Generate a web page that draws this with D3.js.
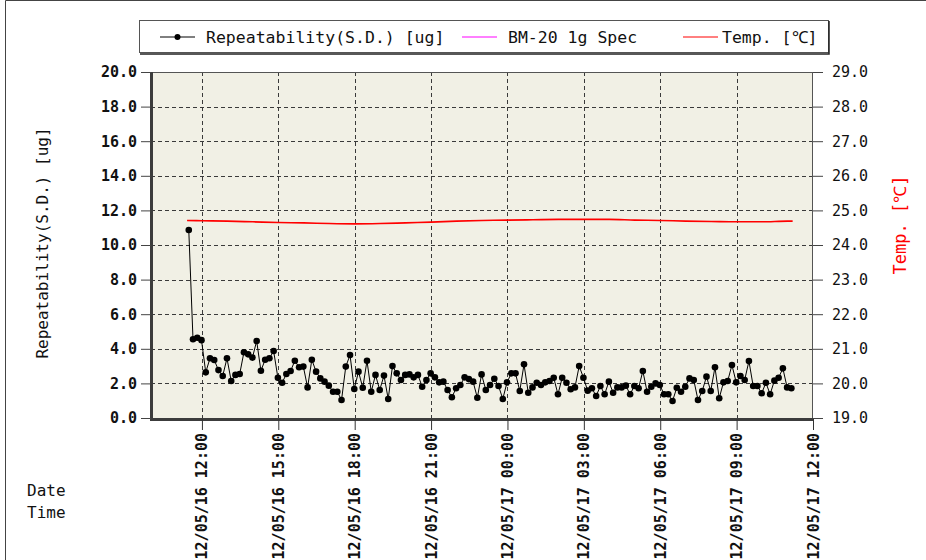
<!DOCTYPE html>
<html>
<head>
<meta charset="utf-8">
<script src="https://cdn.jsdelivr.net/npm/d3@7"></script>
<style>
  body { margin: 0; background: #fff; }
  svg { display: block; }
  text { font-family: "DejaVu Sans Mono", "Liberation Mono", monospace; fill: #111; }
</style>
</head>
<body>
<svg id="chart" width="926" height="560"></svg>
<script>
// Repeatability measurements, one every 10 minutes starting at the first sample time
const firstSample = "2012-05-16 11:29";
const sampleStepMinutes = 10;
const repeatability = [
  10.87, 4.55, 4.64, 4.50, 2.64, 3.45, 3.35, 2.77, 2.43, 3.45,
  2.14, 2.49, 2.54, 3.80, 3.68, 3.49, 4.45, 2.73, 3.37, 3.45,
  3.87, 2.33, 2.04, 2.54, 2.72, 3.31, 2.93, 2.97, 1.77, 3.37,
  2.68, 2.29, 2.10, 1.87, 1.52, 1.52, 1.04, 2.97, 3.64, 1.68,
  2.68, 1.75, 3.31, 1.52, 2.49, 1.62, 2.45, 1.10, 3.00, 2.58,
  2.20, 2.49, 2.52, 2.35, 2.49, 1.81, 2.20, 2.58, 2.35, 2.06,
  2.10, 1.62, 1.20, 1.72, 1.91, 2.35, 2.25, 2.10, 1.17, 2.52,
  1.62, 1.91, 2.27, 1.85, 1.10, 2.06, 2.58, 2.58, 1.56, 3.10,
  1.46, 1.77, 2.04, 1.91, 2.06, 2.14, 2.33, 1.37, 2.33, 2.04,
  1.66, 1.77, 3.00, 2.33, 1.58, 1.72, 1.27, 1.85, 1.37, 2.10,
  1.46, 1.77, 1.77, 1.87, 1.37, 1.85, 1.72, 2.72, 1.52, 1.81,
  2.00, 1.91, 1.37, 1.37, 0.98, 1.75, 1.52, 1.81, 2.29, 2.20,
  1.04, 1.56, 2.39, 1.56, 2.93, 1.14, 2.06, 2.14, 3.06, 2.06,
  2.43, 2.20, 3.29, 1.85, 1.85, 1.43, 2.04, 1.37, 2.16, 2.33,
  2.87, 1.77, 1.72
];

// Ambient temperature log
const tempTimes = [
  "2012-05-16 11:25", "2012-05-16 12:00", "2012-05-16 13:00", "2012-05-16 14:00",
  "2012-05-16 15:00", "2012-05-16 16:00", "2012-05-16 17:00", "2012-05-16 18:00",
  "2012-05-16 19:00", "2012-05-16 20:00", "2012-05-16 21:00", "2012-05-16 22:00",
  "2012-05-16 23:00", "2012-05-17 00:00", "2012-05-17 01:00", "2012-05-17 02:00",
  "2012-05-17 03:00", "2012-05-17 04:00", "2012-05-17 05:00", "2012-05-17 06:00",
  "2012-05-17 07:00", "2012-05-17 08:00", "2012-05-17 09:00", "2012-05-17 10:00",
  "2012-05-17 11:00", "2012-05-17 11:12"
];
const tempValues = [
  24.71, 24.70, 24.69, 24.67, 24.65, 24.64, 24.62, 24.61,
  24.62, 24.64, 24.66, 24.69, 24.71, 24.72, 24.73, 24.74,
  24.74, 24.74, 24.72, 24.71, 24.69, 24.68, 24.67, 24.67,
  24.69, 24.69
];

const timeDomain = ["2012-05-16 10:00", "2012-05-17 12:00"];
const leftDomain = [0, 20];
const rightDomain = [19, 29];
const legendNames = ["Repeatability(S.D.) [ug]", "BM-20 1g Spec", "Temp. [℃]"];
const legendColors = ["#000000", "#ff00ff", "#ff0000"];
const leftTitle = "Repeatability(S.D.) [ug]";
const rightTitle = "Temp. [℃]";
const xTitleLines = ["Date", "Time"];

const parse = d3.timeParse("%Y-%m-%d %H:%M");
const t0 = parse(firstSample);
const repData = repeatability.map((v, i) => ({ t: d3.timeMinute.offset(t0, i * sampleStepMinutes), v }));
const tempData = tempTimes.map((s, i) => ({ t: parse(s), v: tempValues[i] }));

const svg = d3.select("#chart");
const plot = { left: 151, right: 813, top: 72, bottom: 418 };

const x = d3.scaleTime().domain(timeDomain.map(parse)).range([plot.left, plot.right]);
const yL = d3.scaleLinear().domain(leftDomain).range([plot.bottom, plot.top]);
const yR = d3.scaleLinear().domain(rightDomain).range([plot.bottom, plot.top]);

// outer frame
svg.append("path").attr("d", "M5.5,560 V0.5 H926").attr("fill", "none").attr("stroke", "#444").attr("stroke-width", 1);

// plotting area
svg.append("rect")
  .attr("x", plot.left).attr("y", plot.top)
  .attr("width", plot.right - plot.left).attr("height", plot.bottom - plot.top)
  .attr("fill", "#f1f0e5");

const xTicks = d3.timeHour.every(3).range(parse("2012-05-16 12:00"), d3.timeMinute.offset(parse("2012-05-17 12:00"), 1));
const yTicks = d3.range(leftDomain[0], leftDomain[1] + 0.001, 2);
const yRTicks = d3.range(rightDomain[0], rightDomain[1] + 0.001, 1);

// dashed grid
const grid = svg.append("g").attr("stroke", "#3a3a3a").attr("stroke-dasharray", "4,3").attr("stroke-width", 1);
grid.selectAll("line.h").data(yTicks.slice(1, -1)).join("line")
  .attr("x1", plot.left).attr("x2", plot.right)
  .attr("y1", d => Math.round(yL(d)) + 0.5).attr("y2", d => Math.round(yL(d)) + 0.5);
grid.selectAll("line.v").data(xTicks.filter(d => x(d) < plot.right - 2)).join("line")
  .attr("y1", plot.top).attr("y2", plot.bottom)
  .attr("x1", d => Math.round(x(d)) + 0.5).attr("x2", d => Math.round(x(d)) + 0.5);

// plot border, with darker left and bottom edges
svg.append("rect")
  .attr("x", plot.left + 0.5).attr("y", plot.top + 0.5)
  .attr("width", plot.right - plot.left - 1).attr("height", plot.bottom - plot.top)
  .attr("fill", "none").attr("stroke", "#555");
svg.append("path")
  .attr("d", `M${plot.left + 0.5},${plot.top} V${plot.bottom + 1.5} H${plot.right}`)
  .attr("fill", "none").attr("stroke", "#3c3c3c").attr("stroke-width", 3);

// left axis
const axL = svg.append("g").attr("transform", `translate(${plot.left},0)`)
  .call(d3.axisLeft(yL).tickValues(yTicks).tickFormat(d3.format(".1f")).tickSize(10).tickPadding(4));
axL.select(".domain").remove();
axL.selectAll("line").attr("stroke", "#444");
axL.selectAll("text").attr("font-size", 15).attr("font-weight", "bold")
  .attr("font-family", "DejaVu Sans Mono").attr("fill", "#111");

// right axis
const axR = svg.append("g").attr("transform", `translate(${plot.right},0)`)
  .call(d3.axisRight(yR).tickValues(yRTicks).tickFormat(d3.format(".1f")).tickSize(10).tickPadding(9));
axR.select(".domain").remove();
axR.selectAll("line").attr("stroke", "#444");
axR.selectAll("text").attr("font-size", 15).attr("font-family", "DejaVu Sans Mono").attr("fill", "#111");

// bottom axis with vertical date-time labels
const fmt = d3.timeFormat("%y/%m/%d %H:%M");
const axB = svg.append("g").attr("transform", `translate(0,${plot.bottom + 1})`)
  .call(d3.axisBottom(x).tickValues(xTicks).tickFormat(fmt).tickSize(11));
axB.select(".domain").remove();
axB.selectAll("line").attr("stroke", "#333");
axB.selectAll("text")
  .attr("font-size", 15).attr("font-weight", "bold").attr("font-family", "DejaVu Sans Mono").attr("fill", "#111")
  .attr("text-anchor", "end").attr("dy", null).attr("y", null)
  .attr("transform", "translate(0,14) rotate(-90)")
  .attr("dominant-baseline", "central");

// temperature trace
svg.append("path").datum(tempData)
  .attr("fill", "none").attr("stroke", "#ff0000").attr("stroke-width", 1.6)
  .attr("d", d3.line().x(d => x(d.t)).y(d => yR(d.v)).curve(d3.curveMonotoneX));

// repeatability trace
svg.append("path").datum(repData)
  .attr("fill", "none").attr("stroke", "#000").attr("stroke-width", 1)
  .attr("d", d3.line().x(d => x(d.t)).y(d => yL(d.v)));
svg.append("g").selectAll("circle").data(repData).join("circle")
  .attr("cx", d => x(d.t)).attr("cy", d => yL(d.v)).attr("r", 3.3).attr("fill", "#000");

// axis titles
svg.append("text").attr("transform", `translate(48,${(plot.top + plot.bottom) / 2 - 2}) rotate(-90)`)
  .attr("text-anchor", "middle").attr("font-size", 16).text(leftTitle);
svg.append("text").attr("transform", `translate(906,${(plot.top + plot.bottom) / 2 - 20}) rotate(-90)`)
  .attr("text-anchor", "middle").attr("font-size", 17)
  .attr("font-family", "Liberation Sans, Arial, sans-serif").style("fill", "#ff0000").text(rightTitle);
svg.append("g").selectAll("text").data(xTitleLines).join("text")
  .attr("x", 27).attr("y", (d, i) => 496 + i * 22).attr("font-size", 16).text(d => d);

// legend
const lg = svg.append("g");
lg.append("rect").attr("x", 139.5).attr("y", 20.5).attr("width", 689).attr("height", 32)
  .attr("fill", "#fff").attr("stroke", "#555");
lg.append("path").attr("d", "M829,21 V54 H140").attr("fill", "none").attr("stroke", "#222").attr("stroke-width", 1.5);
const legendX = [160, 462, 683];
const legendTextX = [206, 508, 722];
legendNames.forEach((name, i) => {
  lg.append("line").attr("x1", legendX[i]).attr("x2", legendX[i] + 35)
    .attr("y1", 37).attr("y2", 37).attr("stroke", legendColors[i]).attr("stroke-width", 1);
  if (i === 0) lg.append("circle").attr("cx", legendX[i] + 17.5).attr("cy", 37).attr("r", 3).attr("fill", "#000");
  lg.append("text").attr("x", legendTextX[i]).attr("y", 43).attr("font-size", 16.5).text(name);
});
</script>
</body>
</html>
